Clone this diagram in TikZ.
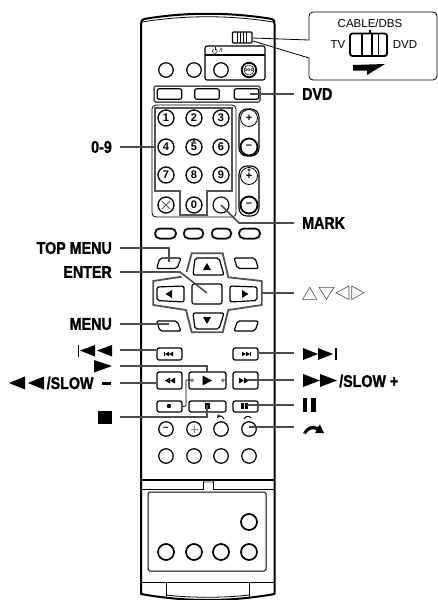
\documentclass[tikz,border=0pt]{standalone}
\usepackage{fontspec}
\setmainfont{Liberation Sans}
\newfontfamily\lblfont[FakeStretch=0.84,FakeBold=1.3]{Liberation Sans}
\usetikzlibrary{calc,positioning}
\tikzset{
  wall/.style={line width=2pt,black},
  leader/.style={line width=1.6pt,gray!60!black},
  frame/.style={line width=1.8pt,gray!65!black},
  btn/.style={draw,line width=1.2pt,rounded corners=2pt,minimum width=#1,inner sep=0pt},
  rbtn/.style={draw,circle,line width=1.2pt,minimum size=14.5pt,inner sep=0pt},
  numbtn/.style={draw,circle,line width=1.3pt,minimum size=16pt,inner sep=0pt,font=\bfseries\fontsize{11}{11}\selectfont},
  pillbtn/.style={draw,line width=1.2pt,rounded corners=4.8pt,minimum height=10pt,inner sep=0pt},
  lbl/.style={inner ysep=0pt,inner xsep=0pt,font=\lblfont\bfseries\fontsize{17}{17}\selectfont},
  capt/.style={inner sep=0pt,font=\fontsize{11.5}{12}\selectfont},
  slant/.style={line width=1.2pt,rounded corners=2pt},
  hollow/.style={draw=black!70,line width=0.6pt}
}
\begin{document}
\begin{tikzpicture}[x=1pt,y=-1pt]
  \useasboundingbox (0,0) rectangle (438,600);
  % body
  \draw[wall,line join=round] (141,594) -- (141,24) .. controls (141,21) and (142,20) .. (144,19)
    .. controls (185,12) and (230,12) .. (272,19) .. controls (274,20) and (274.5,21) .. (274.5,24)
    -- (274.5,594) .. controls (230,602) and (185,602) .. (141,594) -- cycle;
  \draw[line width=0.8pt] (142,22) .. controls (185,15) and (230,15) .. (273,22);
  % switch and callout
  \draw[line width=1.2pt,rounded corners=1pt] (232.5,32) rectangle (252,43);
  \foreach \x in {237,240,243,246}{
    \draw[line width=1pt] (\x,32) -- (\x,43);
  }
  \coordinate (swa) at (252.5,38);
  \coordinate (swb) at (253,41);
  \coordinate (cala) at (309,40);
  \coordinate (calb) at (309,58);
  \draw[line width=0.8pt,rounded corners=4pt] (cala) -- (309,12) -- (437,12) -- (437,80) -- (309,80) -- (calb);
  \draw[line width=0.8pt] (swa) -- (cala);
  \draw[line width=0.8pt] (swb) -- (calb);
  \node[capt] (cable) at (370,23) {CABLE/DBS};
  \node[capt] (tv) at (338,45) {TV};
  \node[capt] (dvdpos) at (405,45) {DVD};
  \draw[line width=1.8pt,rounded corners=2.5pt] (350,33.5) rectangle (387,56);
  \draw[line width=1.5pt] (362,33.5) -- (362,56);
  \draw[line width=1.5pt] (372,33.5) -- (372,56);
  \draw[line width=1pt] (378,33.5) -- (378,56);
  \draw[line width=1.3pt] (370,29.5) -- (370,33.5);
  \fill (353,65) -- (385,64) -- (367,75) -- (367,70.5) -- (353,70.5) -- cycle;
  % power block
  \draw[line width=1.1pt,rounded corners=2pt] (205,46) rectangle (265,80);
  \draw[line width=1.1pt] (205,55) -- (265,55);
  \draw[line width=0.5pt] (216,49) arc (-60:240:2.4);
  \draw[line width=0.5pt] (214.8,47) -- (214.8,50);
  \node[inner sep=0pt,font=\fontsize{6}{6}\selectfont] (pwr) at (221,50.5) {/I};
  \foreach \x/\n in {166/a,194/b,221/c}{
    \node[rbtn] (top\n) at (\x,70) {};
  }
  \node[rbtn,line width=1.8pt] (topd) at (249,70) {\fontsize{5}{5}\selectfont\bfseries ooo};
  \draw[line width=0.5pt] (topd) circle (5pt);
  % source buttons
  \draw[frame,line width=1.5pt,rounded corners=2pt] (154,86) rectangle (260,102);
  \foreach \x/\n in {169.5/a,207/b,246.5/c}{
    \node[btn=24.5pt,minimum height=10.5pt] (src\n) at (\x,94) {};
  }
  % number pad
  \draw[line width=0.8pt,rounded corners=4pt] (152,105) rectangle (236,217);
  \draw[frame] (155,108) -- (232,108) -- (232,191) -- (207,191) -- (207,215) -- (180,215) -- (180,191) -- (155,191) -- cycle;
  \foreach \x/\y/\t in {166/118/1,194/118/2,221/118/3,166/147/4,221/147/6,166/175/7,194/175/8,221/175/9,194/205/0}{
    \node[numbtn] (num\t) at (\x,\y) {\t};
  }
  \node[numbtn] (num5) at (194,147) {\raisebox{-1.5pt}{5}};
  \draw[line width=0.5pt] (194,141) circle (1.2pt);
  \node[numbtn] (numx) at (166,205) {};
  \draw[line width=0.8pt,gray!70!black] (162,201) -- (170,209);
  \draw[line width=0.8pt,gray!70!black] (170,201) -- (162,209);
  \node[numbtn,line width=1.1pt] (nummark) at (221,205) {};
  % volume capsules
  \draw[line width=1.1pt,rounded corners=8pt] (239,109) rectangle (259,156);
  \draw[line width=1.1pt,rounded corners=8pt] (239,166) rectangle (259,216);
  \node[numbtn,minimum size=17pt,line width=0.8pt] (volp) at (249,118) {+};
  \node[numbtn,minimum size=17pt,line width=1.8pt] (volm) at (249,147) {--};
  \node[numbtn,minimum size=17pt,line width=0.8pt] (chp) at (249,176) {\raisebox{-1.5pt}{+}};
  \draw[line width=0.5pt] (249,170) circle (1.2pt);
  \node[numbtn,minimum size=17pt,line width=1.8pt] (chm) at (249,205) {--};
  % colour row
  \foreach \x/\w/\n in {165.5/21/a,193.5/19.5/b,221.5/19.5/c,249.5/21/d}{
    \node[pillbtn,minimum width=\w pt,line width=2pt,draw=gray!60!black] (colg\n) at (\x,233.5) {};
    \node[pillbtn,minimum width=\w pt,line width=1pt] (col\n) at (\x,233.5) {};
  }
  % slanted buttons
  \draw[slant] (160,258) -- (181,258) -- (177,268.5) -- (156.5,268.5) -- cycle;
  \draw[slant] (234,258) -- (255,258) -- (258.5,268.5) -- (237.5,268.5) -- cycle;
  \draw[slant] (156.5,321) -- (177,321) -- (181,331) -- (160,331) -- cycle;
  \draw[slant] (237.5,321) -- (258.5,321) -- (255,331) -- (234,331) -- cycle;
  % cursor cross
  \draw[frame] (186.5,272) -- (191.7,253.3) -- (222.7,253.3) -- (228.3,277.3) -- (261.7,281) -- (261.7,305)
    -- (228.3,310) -- (222.7,332.3) -- (191.7,332.3) -- (186,310) -- (153.3,305) -- (153.3,281) -- (181.7,276.7);
  \draw[slant] (195,258) -- (219,258) -- (224,275) -- (193,275) -- cycle;
  \draw[slant] (193,313) -- (224,313) -- (219,329) -- (195,329) -- cycle;
  \draw[slant] (157,287) -- (184,286) -- (184,302) -- (157,300.5) -- cycle;
  \draw[slant] (230,286) -- (257,287) -- (257,300.5) -- (230,302) -- cycle;
  \node[btn=30pt,minimum height=20pt] (enterbtn) at (207,294) {};
  \fill (207,263) -- (203,270) -- (211,270) -- cycle;
  \fill (207,324) -- (203,317) -- (211,317) -- cycle;
  \fill (165.5,294) -- (172,290) -- (172,298) -- cycle;
  \fill (248.5,294) -- (242,290) -- (242,298) -- cycle;
  % transport buttons
  \foreach \x/\y/\w/\h/\n in {169.5/354/25/12/prev,245.5/354/25/12/next,169.5/380.5/25/17/rew,207.5/380.5/37/17/play,245.5/380.5/25/17/ffw,169.5/406.5/25/11/rec,207.5/406.5/37/11/stop,245.5/406.5/25/11/pause}{
    \node[btn=\w pt,minimum height=\h pt] (\n) at (\x,\y) {};
  }
  \foreach \x in {165,169}{
    \fill (\x,354) -- (\x+4,351.7) -- (\x+4,356.3) -- cycle;
  }
  \draw[line width=0.7pt] (164.5,351.7) -- (164.5,356.3);
  \foreach \x in {242,246}{
    \fill (\x+4,354) -- (\x,351.7) -- (\x,356.3) -- cycle;
  }
  \draw[line width=0.7pt] (250.5,351.7) -- (250.5,356.3);
  \foreach \x in {166,171}{
    \fill (\x-1,380.5) -- (\x+4,377.5) -- (\x+4,383.5) -- cycle;
  }
  \foreach \x in {239,244}{
    \fill (\x+5,380.5) -- (\x,377.5) -- (\x,383.5) -- cycle;
  }
  \fill (202.5,375.5) -- (212,380.5) -- (202.5,385.5) -- cycle;
  \fill (169,406) circle (2.2pt);
  \fill (204.5,403) rectangle (209.5,408.5);
  \fill (241,403.2) rectangle (243.5,409);
  \fill (245,403.2) rectangle (247.5,409);
  \coordinate (lnka) at (192,380);
  \draw[line width=0.5pt] (lnka) circle (1.4pt);
  \draw[line width=0.5pt] (223,380) circle (1.4pt);
  \draw[line width=0.8pt] (190.6,380) -- (186,380) -- (186,406) -- (rec.east);
  % round rows
  \node[rbtn] (rowam) at (166,429) {\bfseries --};
  \node[rbtn] (rowap) at (194,429) {};
  \draw[line width=0.9pt,gray] (190.5,429) -- (197.5,429);
  \draw[line width=0.9pt,gray] (194,425.5) -- (194,432.5);
  \node[rbtn] (rowac) at (221,429) {};
  \node[rbtn] (rowad) at (249,429) {};
  \draw[line width=0.9pt,->,>=stealth] (224,419) .. controls (222,415.5) and (219,415.5) .. (217,418);
  \draw[line width=0.9pt] (244,419) .. controls (246,415.5) and (249,415.5) .. (251,418);
  \foreach \x/\n in {166/a,194/b,221/c,249/d}{
    \node[rbtn] (rowb\n) at (\x,456) {};
  }
  % lower part
  \draw[line width=1.3pt] (141,480) -- (274,480);
  \draw[line width=1pt] (141,489) -- (203,489) -- (203,480);
  \draw[line width=1pt] (274,489) -- (213,489) -- (213,480);
  \fill[gray!60] (203.5,481) rectangle (212.5,483);
  \draw[line width=1pt,rounded corners=1.5pt] (148,492) rectangle (266,571);
  \foreach \x/\y/\n in {249/522/a,166/552/b,194/552/c,221/552/d,249/552/e}{
    \node[rbtn,line width=1.7pt,minimum size=16pt] (cov\n) at (\x,\y) {};
  }
  \draw[line width=1pt] (141,582) -- (274,582);
  \draw[line width=1pt] (166,582) -- (166,597);
  \draw[line width=1pt] (249,582) -- (249,597);
  \draw[line width=0.8pt] (166,595) .. controls (190,598) and (225,598) .. (249,595);
  % labels on the left
  \foreach \y/\t/\n in {147/0-9/num,248/TOP MENU/topm,272/ENTER/ent,324/MENU/menu}{
    \node[lbl,anchor=east] (\n lbl) at (112,\y) {\t};
    \coordinate (\n gap) at (120,\y);
  }
  \coordinate (prevgap) at (120,350);
  \coordinate (playgap) at (120,366);
  \coordinate (rewgap) at (120,383);
  \coordinate (stopgap) at (120,417);
  % labels on the right
  \foreach \y/\t/\n in {94/DVD/dvd,223/MARK/mark}{
    \node[lbl,anchor=west] (\n lbl) at (302,\y) {\t};
    \coordinate (\n gap) at (294,\y);
  }
  \foreach \y/\n in {293/cur,353/next,380/ffw,405/pause,427/adv}{
    \coordinate (\n gap) at (294,\y);
  }
  % leaders
  \coordinate (numend) at (155,147);
  \draw[leader] (numgap) -- (numend);
  \coordinate (dvdend) at (250,94);
  \draw[leader] (dvdgap) -- (dvdend);
  \coordinate (markbend) at (239,223);
  \draw[leader] (markgap) -- (markbend) -- (nummark.center);
  \coordinate (topend) at (169,262);
  \draw[leader] (topmgap) -| (topend);
  \coordinate (entbend) at (180,272);
  \coordinate (entend) at (207,293);
  \draw[leader] (entgap) -- (entbend) -- (entend);
  \coordinate (menuend) at (169,324);
  \draw[leader] (menugap) -- (menuend);
  \coordinate (curend) at (262,293);
  \draw[leader] (curgap) -- (curend);
  \draw[leader] (prevgap) -- (prev.west |- prevgap);
  \coordinate (playend) at (207,373);
  \draw[leader] (playgap) -| (playend);
  \draw[leader] (rewgap) -- (rew.west |- rewgap);
  \coordinate (stopend) at (207,405);
  \draw[leader] (stopgap) -| (stopend);
  \draw[leader] (nextgap) -- (next.east |- nextgap);
  \coordinate (ffwend) at (247,380);
  \draw[leader] (ffwgap) -- (ffwend);
  \coordinate (pauseend) at (247,405);
  \draw[leader] (pausegap) -- (pauseend);
  \coordinate (advend) at (249,427);
  \draw[leader] (advgap) -- (advend);
  % cursor glyphs
  \draw[hollow] (302.7,299.3) -- (316.7,299.3) -- (309.7,287.3) -- cycle;
  \draw[hollow] (319,287.3) -- (334,287.3) -- (326.5,299.3) -- cycle;
  \draw[hollow] (336,292.8) -- (349,286) -- (349,299.5) -- cycle;
  \draw[hollow] (351.7,286) -- (364,292.8) -- (351.7,299.5) -- cycle;
  % transport glyphs left
  \fill (78,345) rectangle (79.2,357);
  \foreach \x in {80,97}{
    \fill (\x,350.5) -- (\x+15,345) -- (\x+15,356.5) -- cycle;
  }
  \fill (94,360) -- (112,366) -- (94,372.5) -- cycle;
  \foreach \x in {9,28}{
    \fill (\x,383) -- (\x+16,376.5) -- (\x+16,389.5) -- cycle;
  }
  \node[lbl,anchor=west] (rewlbl) at (46.5,383) {/SLOW};
  \fill (102,382.4) rectangle (111,384.6);
  \fill (98,411) rectangle (112,424);
  % transport glyphs right
  \foreach \x in {303,318}{
    \fill (\x+15,354) -- (\x,348) -- (\x,360) -- cycle;
  }
  \fill (335,348) rectangle (336.6,360);
  \foreach \x in {303,320}{
    \fill (\x+17,380.5) -- (\x,374) -- (\x,387) -- cycle;
  }
  \node[lbl,anchor=west] (ffwlbl) at (339,381) {/SLOW +};
  \fill (303,398) rectangle (307,412);
  \fill (311,398) rectangle (316,412);
  \fill (303,433) .. controls (306,427) and (312,424) .. (318,427) -- (320,424.5) -- (324,433) -- (315,433)
    -- (316.5,430) .. controls (312,428) and (308,430) .. (306,434) -- cycle;
\end{tikzpicture}
\end{document}
